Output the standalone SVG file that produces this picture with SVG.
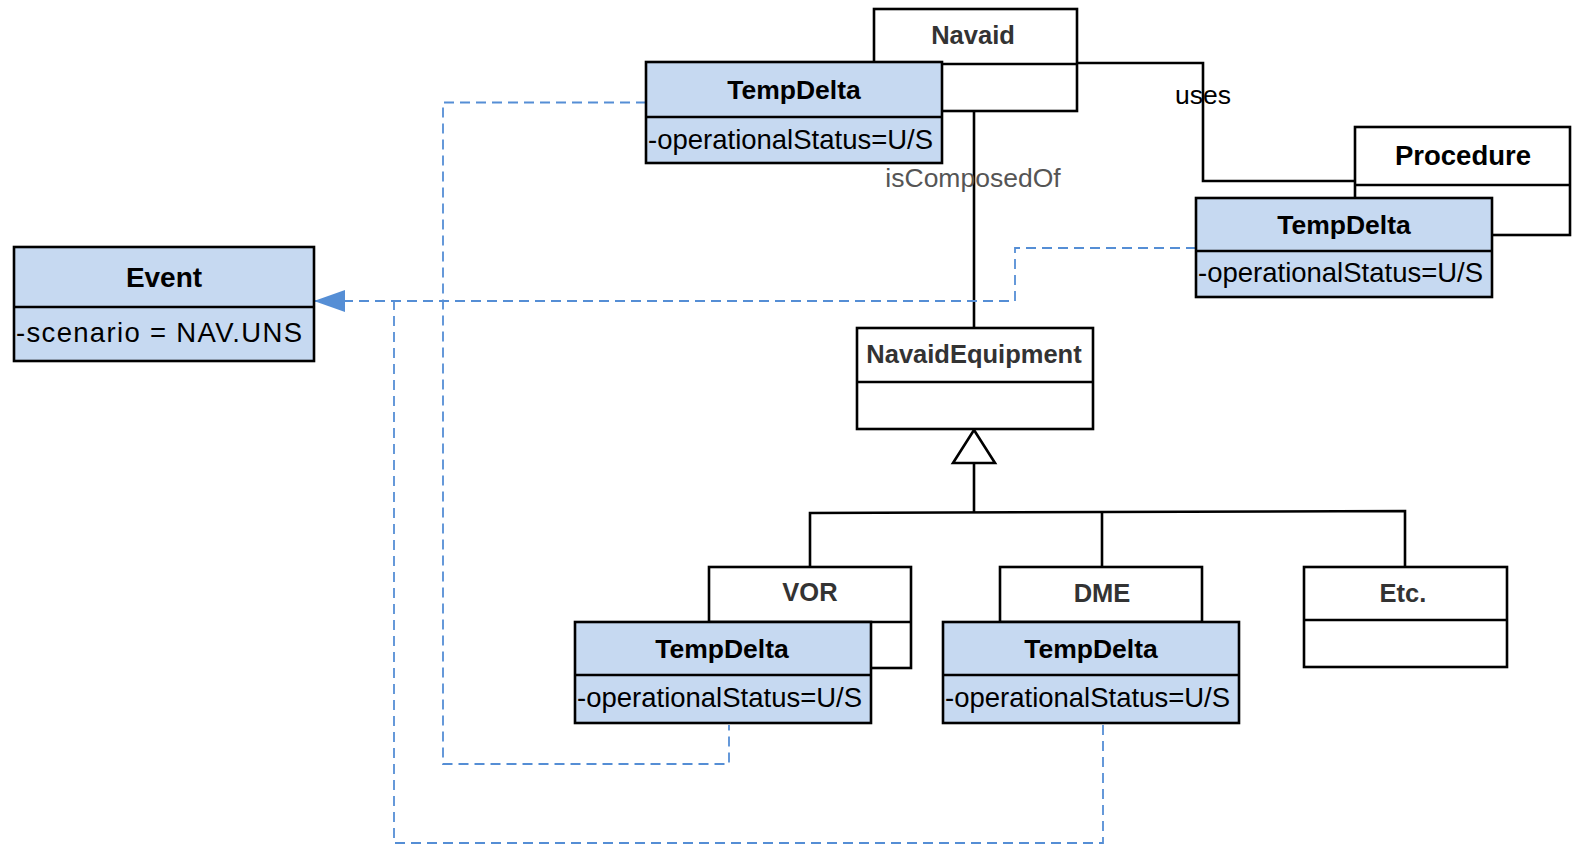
<svg xmlns="http://www.w3.org/2000/svg" width="1575" height="846" viewBox="0 0 1575 846">
<style>
.box{fill:#ffffff;stroke:#000;stroke-width:2.6}
.td{fill:#c6d9f1;stroke:#000;stroke-width:2.6}
.sep{stroke:#000;stroke-width:2.6}
.ln{fill:none;stroke:#000;stroke-width:2.6}
.dash{fill:none;stroke:#558ed5;stroke-width:1.8;stroke-dasharray:10 6}
.t{font-family:"Liberation Sans",Arial,sans-serif;font-weight:bold;text-anchor:middle;fill:#000}
.g{font-family:"Liberation Sans",Arial,sans-serif;font-weight:bold;text-anchor:middle;fill:#333;font-size:25.5px}
.a{font-family:"Liberation Sans",Arial,sans-serif;fill:#000;font-size:27.5px}
.lbl{font-family:"Liberation Sans",Arial,sans-serif;font-size:26.5px}
</style>
<defs>
<marker id="arr" markerUnits="userSpaceOnUse" markerWidth="32" markerHeight="24" viewBox="0 0 32 24" refX="31" refY="12" orient="auto">
<path d="M0,1 L31,12 L0,23 z" fill="#558ed5"/>
</marker>
</defs>
<g id="connectors">
<polyline class="ln" points="1077,63 1203,63 1203,181 1355,181"/>
<line class="ln" x1="974" y1="111" x2="974" y2="328"/>
<polygon points="974,430 953,463 995,463" fill="#fff" stroke="#000" stroke-width="2.6"/>
<polyline class="ln" points="974,463 974,512"/>
<polyline class="ln" points="810,567 810,513 1405,511 1405,567"/>
<line class="ln" x1="1102" y1="511" x2="1102" y2="567"/>
<path class="dash" d="M646,102.5 H443 V764 H729 V725"/>
<path class="dash" d="M1196,248 H1015 V301 H314" marker-end="url(#arr)"/>
<path class="dash" d="M1103,725 V843 H394 V301"/>
<text class="lbl" x="973" y="187" text-anchor="middle" fill="#555">isComposedOf</text>
<text class="lbl" x="1203" y="104" text-anchor="middle" fill="#000" font-size="27">uses</text>
</g>
<g id="navaid">
<rect class="box" x="874" y="9" width="203" height="102"/>
<line class="sep" x1="874" y1="64" x2="1077" y2="64"/>
<text class="g" x="973" y="44" font-size="26.5">Navaid</text>
</g>
<g id="tempdelta-navaid">
<rect class="td" x="646" y="62" width="296" height="101"/>
<line class="sep" x1="646" y1="117" x2="942" y2="117"/>
<text class="t" x="794" y="98.5" font-size="26.5">TempDelta</text>
<text class="a" x="648" y="149">-operationalStatus=U/S</text>
</g>
<g id="procedure">
<rect class="box" x="1355" y="127" width="215" height="108"/>
<line class="sep" x1="1355" y1="185" x2="1570" y2="185"/>
<text class="t" x="1463" y="165" font-size="27.5">Procedure</text>
</g>
<g id="tempdelta-procedure">
<rect class="td" x="1196" y="198" width="296" height="99"/>
<line class="sep" x1="1196" y1="251" x2="1492" y2="251"/>
<text class="t" x="1344" y="234" font-size="26.5">TempDelta</text>
<text class="a" x="1198" y="282">-operationalStatus=U/S</text>
</g>
<g id="event">
<rect class="td" x="14" y="247" width="300" height="114"/>
<line class="sep" x1="14" y1="307" x2="314" y2="307"/>
<text class="t" x="164" y="287" font-size="28">Event</text>
<text class="a" x="16" y="342" font-size="30" textLength="286">-scenario = NAV.UNS</text>
</g>
<g id="navaidequipment">
<rect class="box" x="857" y="328" width="236" height="101"/>
<line class="sep" x1="857" y1="382" x2="1093" y2="382"/>
<text class="g" x="974" y="363" font-size="27">NavaidEquipment</text>
</g>
<g id="vor">
<rect class="box" x="709" y="567" width="202" height="101"/>
<line class="sep" x1="709" y1="622" x2="911" y2="622"/>
<text class="g" x="810" y="601">VOR</text>
</g>
<g id="dme">
<rect class="box" x="1000" y="567" width="202" height="101"/>
<line class="sep" x1="1000" y1="622" x2="1202" y2="622"/>
<text class="g" x="1102" y="602">DME</text>
</g>
<g id="etc">
<rect class="box" x="1304" y="567" width="203" height="100"/>
<line class="sep" x1="1304" y1="620" x2="1507" y2="620"/>
<text class="g" x="1403" y="602">Etc.</text>
</g>
<g id="tempdelta-vor">
<rect class="td" x="575" y="622" width="296" height="101"/>
<line class="sep" x1="575" y1="675" x2="871" y2="675"/>
<text class="t" x="722" y="658" font-size="26.5">TempDelta</text>
<text class="a" x="577" y="707">-operationalStatus=U/S</text>
</g>
<g id="tempdelta-dme">
<rect class="td" x="943" y="622" width="296" height="101"/>
<line class="sep" x1="943" y1="675" x2="1239" y2="675"/>
<text class="t" x="1091" y="658" font-size="26.5">TempDelta</text>
<text class="a" x="945" y="707">-operationalStatus=U/S</text>
</g>
</svg>
